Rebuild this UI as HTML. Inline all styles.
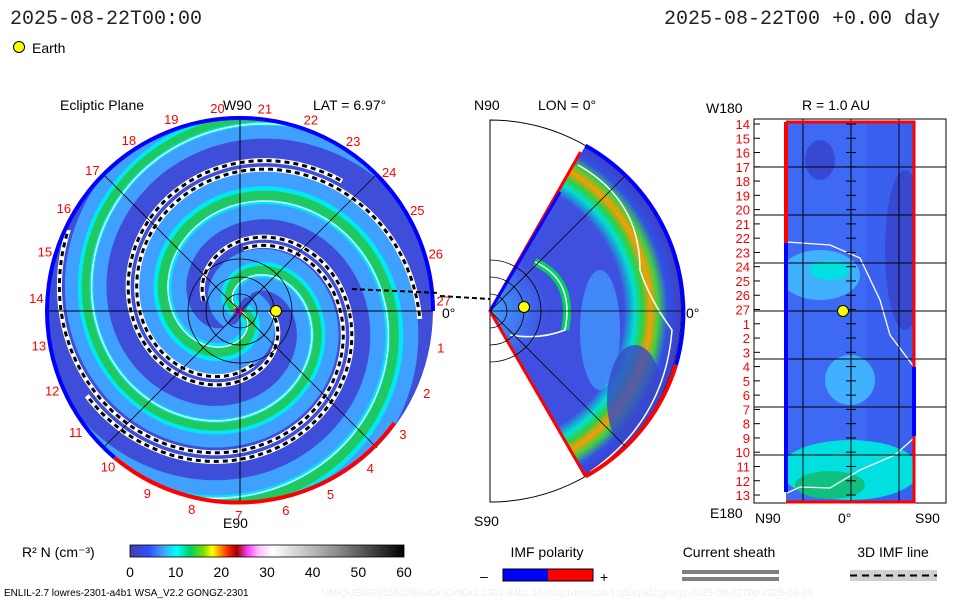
<!DOCTYPE html>
<html><head><meta charset="utf-8"><style>
body{margin:0;background:#fff;width:960px;height:600px;overflow:hidden}
svg{display:block;font-family:"Liberation Sans",sans-serif}
</style></head><body>
<svg id="s" width="960" height="600" viewBox="0 0 960 600">
<defs>
<clipPath id="cc"><circle cx="240" cy="311" r="193"/></clipPath>
<clipPath id="wc"><path d="M490,311 L585.5,145.6 A191,191 0 0 1 585.5,476.4 Z"/></clipPath>
<clipPath id="rc"><rect x="786" y="122" width="128" height="380"/></clipPath>
<linearGradient id="cb" x1="0" x2="1">
<stop offset="0" stop-color="#4040b0"/><stop offset="0.07" stop-color="#3050ff"/><stop offset="0.12" stop-color="#40a0ff"/>
<stop offset="0.17" stop-color="#00ffff"/><stop offset="0.22" stop-color="#00d060"/><stop offset="0.27" stop-color="#80e000"/>
<stop offset="0.3" stop-color="#ffff00"/><stop offset="0.33" stop-color="#ff9000"/><stop offset="0.36" stop-color="#ff2000"/>
<stop offset="0.39" stop-color="#a00000"/><stop offset="0.43" stop-color="#ff40ff"/><stop offset="0.47" stop-color="#ffc0ff"/>
<stop offset="0.52" stop-color="#ffffff"/><stop offset="0.75" stop-color="#909090"/><stop offset="1" stop-color="#000"/>
</linearGradient>
<radialGradient id="wg" cx="490" cy="311" r="191" gradientUnits="userSpaceOnUse">
<stop offset="0" stop-color="#40a0ff"/><stop offset="0.3" stop-color="#3f50e0"/><stop offset="0.7" stop-color="#3f50e0"/><stop offset="0.76" stop-color="#00e0d0"/><stop offset="0.8" stop-color="#30d040"/>
<stop offset="0.84" stop-color="#ff9a00"/><stop offset="0.88" stop-color="#40d040"/><stop offset="0.93" stop-color="#3050e8"/><stop offset="1" stop-color="#4040c0"/>
</radialGradient>
</defs>
<g font-family="Liberation Mono, monospace" font-size="20" fill="#222">
<text x="10" y="24">2025-08-22T00:00</text>
<text x="940" y="24" text-anchor="end">2025-08-22T00 +0.00 day</text>
</g>
<circle cx="19" cy="47" r="5.5" fill="#ff0" stroke="#000"/>
<text x="32" y="53" font-size="14">Earth</text>

<g font-size="14" fill="#000">
<text x="60" y="110">Ecliptic Plane</text>
<text x="223" y="110">W90</text>
<text x="313" y="110">LAT = 6.97°</text>
<text x="223" y="528">E90</text>
<text x="442" y="318">0°</text>
<text x="474" y="110">N90</text>
<text x="538" y="110">LON = 0°</text>
<text x="474" y="526">S90</text>
<text x="686" y="318">0°</text>
<text x="706" y="113">W180</text>
<text x="802" y="110">R = 1.0 AU</text>
<text x="710" y="518">E180</text>
<text x="755" y="523">N90</text>
<text x="838" y="523">0°</text>
<text x="915" y="523">S90</text>
</g>

<g id="ecl" clip-path="url(#cc)">
<circle cx="240" cy="311" r="193" fill="#3f4ed8"/>
</g>
<g id="eclover"></g>

<g id="mer">
<path d="M490,120 A191,191 0 0 1 490,502 Z" fill="none" stroke="#000" stroke-width="1"/>
<g clip-path="url(#wc)"><rect x="480" y="120" width="210" height="390" fill="url(#wg)"/>
<ellipse cx="600" cy="330" rx="20" ry="60" fill="#40a0ff" opacity="0.7"/>
<ellipse cx="635" cy="400" rx="28" ry="55" fill="#3a48c8" opacity="0.8"/>
<path d="M535,262 Q575,280 565,330" stroke="#00d060" stroke-width="8" fill="none"/>
<path d="M535,262 Q575,280 565,330 Q540,340 510,335" stroke="#fff" stroke-width="1.5" fill="none"/>
<path d="M578,165 Q640,200 640,270 Q650,300 672,330 Q665,420 590,472" stroke="#fff" stroke-width="1.5" fill="none"/>
</g>
<path d="M580.5,152 L490,311 L585.5,476.4" fill="none" stroke="#f00" stroke-width="3"/>
<path d="M490,311 L560,192" fill="none" stroke="#00f" stroke-width="3"/>
<path d="M585.5,145.6 A191,191 0 0 1 676,365 " fill="none" stroke="#00f" stroke-width="4"/>
<path d="M676,365 A191,191 0 0 1 585.5,476.4" fill="none" stroke="#f00" stroke-width="4"/>
<path d="M490,311 L681,311 M490,311 L625,176 M490,311 L625,446" stroke="#000" stroke-width="0.8"/>
<path d="M490,294 A17,17 0 0 1 490,328 M490,277 A34,34 0 0 1 490,345 M490,260 A51,51 0 0 1 490,362" fill="none" stroke="#000" stroke-width="0.8"/>
<line x1="440" y1="296" x2="490" y2="299" stroke="#000" stroke-width="2" stroke-dasharray="5,3"/>
<circle cx="524" cy="307" r="5.5" fill="#ff0" stroke="#000"/>
</g>

<g id="rgt">
<rect x="754" y="119" width="192" height="384" fill="#fff" stroke="#000"/>
<g clip-path="url(#rc)">
<rect x="786" y="122" width="128" height="380" fill="#3a60f0"/>
<rect x="786" y="122" width="80" height="380" fill="#4070f8" opacity="0.6"/>
<ellipse cx="820" cy="275" rx="40" ry="25" fill="#40b0ff"/>
<ellipse cx="830" cy="270" rx="20" ry="10" fill="#00e0e0"/>
<ellipse cx="850" cy="380" rx="25" ry="25" fill="#40b0ff"/>
<ellipse cx="850" cy="470" rx="70" ry="30" fill="#00e0e0"/>
<ellipse cx="830" cy="485" rx="35" ry="14" fill="#10c080"/>
<ellipse cx="820" cy="160" rx="15" ry="20" fill="#3848d0"/>
<ellipse cx="905" cy="250" rx="20" ry="80" fill="#3848d0"/>
<path d="M787,242 L830,245 L860,258 L880,300 L890,335 L914,367" stroke="#fff" stroke-width="1.3" fill="none"/>
<path d="M787,493 L800,487 L830,488 L860,470 L895,455 L914,438" stroke="#fff" stroke-width="1.3" fill="none"/>
</g>
<g id="rgrid" stroke="#000" stroke-width="1"></g>
<path d="M786,122 H914 V502 H786" fill="none" stroke="#f00" stroke-width="3"/>
<line x1="786" y1="122" x2="786" y2="243" stroke="#f00" stroke-width="4"/>
<line x1="786" y1="243" x2="786" y2="492" stroke="#00f" stroke-width="4"/>
<line x1="914" y1="367" x2="914" y2="436" stroke="#00f" stroke-width="4"/>
<circle cx="843" cy="311" r="5.5" fill="#ff0" stroke="#000"/>
<g id="rlabels" font-size="13" fill="#f00" text-anchor="end"></g>
</g>

<g>
<text x="22" y="557" font-size="14">R² N (cm⁻³)</text>
<rect x="130" y="545" width="274" height="12" fill="url(#cb)" stroke="#000" stroke-width="0.8"/>
<g id="cbt" font-size="14" text-anchor="middle"></g>
</g>
<g>
<text x="547" y="557" font-size="14" text-anchor="middle">IMF polarity</text>
<text x="480" y="581" font-size="14">–</text>
<rect x="503" y="569" width="45" height="12" fill="#00f"/><rect x="548" y="569" width="45" height="12" fill="#f00"/>
<rect x="503" y="569" width="90" height="12" fill="none" stroke="#000"/>
<text x="600" y="582" font-size="14">+</text>
</g>
<g>
<text x="729" y="557" font-size="14" text-anchor="middle">Current sheath</text>
<rect x="682" y="570" width="97" height="4" fill="#808080"/><rect x="682" y="577" width="97" height="4" fill="#808080"/>
</g>
<g>
<text x="893" y="557" font-size="14" text-anchor="middle">3D IMF line</text>
<rect x="850" y="570" width="87" height="11" fill="#d0d0d0"/>
<line x1="850" y1="575.5" x2="937" y2="575.5" stroke="#000" stroke-width="2" stroke-dasharray="7,5"/>
</g>
<text x="4" y="596" font-size="10">ENLIL-2.7 lowres-2301-a4b1 WSA_V2.2 GONGZ-2301</text>
<text x="322" y="596" font-size="10" fill="#eee">UNIQUE0823155528/640x30x90x1.2301-a4b1.16-mcp1umn1cd-1.g53q5d2.gongz-2025-08-22T00   2025-08-23</text>
</svg>
<script>
const NS='http://www.w3.org/2000/svg';
const cbTicks=[0,10,20,30,40,50,60];
const lonLabels=[1,2,3,4,5,6,7,8,9,10,11,12,13,14,15,16,17,18,19,20,21,22,23,24,25,26,27];
const latRows=[14,15,16,17,18,19,20,21,22,23,24,25,26,27,1,2,3,4,5,6,7,8,9,10,11,12,13];
// spiral band arms: start angle (deg), width
const armStart=[20,200];
const armWidth=[30,26];
// 3D IMF dashed lines: start angle (deg), t range
const imfStart=[110,130,290,310];
const imfT0=[1.5,2.5,1.2,2.2];
const imfT1=[7.0,7.6,6.6,7.2];
function mk(t,a,p){const e=document.createElementNS(NS,t);for(const k in a)e.setAttribute(k,a[k]);p.appendChild(e);return e;}
const cx=240,cy=311,R=193,K=25;
function spiral(ph0,off,t0,t1){t0=t0||0;t1=t1||9;let d='';const n=200;for(let i=0;i<=n;i++){const t=t0+(t1-t0)*i/n;const r=K*t+off;const a=ph0*Math.PI/180+t;d+=(i?'L':'M')+(cx+r*Math.cos(a)).toFixed(1)+','+(cy+r*Math.sin(a)).toFixed(1);}return d;}
const ecl=document.getElementById('ecl');
armStart.forEach((a,i)=>{
 let p=mk('path',{d:spiral(a,4),stroke:'#40a0ff','stroke-width':armWidth[i]*1.6,fill:'none'},ecl);
 
 
 mk('path',{d:spiral(a,4),stroke:'#00e8f0','stroke-width':armWidth[i]*0.6,fill:'none'},ecl);
 mk('path',{d:spiral(a,4),stroke:'#20c860','stroke-width':armWidth[i]*0.3,fill:'none'},ecl);
 mk('path',{d:spiral(a,-2),stroke:'#fff','stroke-width':1.3,fill:'none'},ecl);
});
imfStart.forEach((a,i)=>{
 const d=spiral(a,0,imfT0[i],imfT1[i]);
 const w=mk('path',{d,stroke:'#fff','stroke-width':5,fill:'none'},ecl);
 
 
 mk('path',{d,stroke:'#000','stroke-width':3,fill:'none','stroke-dasharray':'5,4'},ecl);
});
const ov=document.getElementById('eclover');
mk('line',{x1:cx-R,y1:cy,x2:cx+R,y2:cy,stroke:'#000','stroke-width':1},ov);
mk('line',{x1:cx,y1:cy-R,x2:cx,y2:cy+R,stroke:'#000','stroke-width':1},ov);
mk('line',{x1:cx-137,y1:cy-137,x2:cx+137,y2:cy+137,stroke:'#000','stroke-width':0.8},ov);
mk('line',{x1:cx-137,y1:cy+137,x2:cx+137,y2:cy-137,stroke:'#000','stroke-width':0.8},ov);
[17,34,52].forEach(r=>mk('circle',{cx,cy,r,fill:'none',stroke:'#000','stroke-width':0.8},ov));
mk('path',{d:`M${cx+R},${cy} A${R},${R} 0 1 0 ${cx-R*0.65},${cy+R*0.76}`,fill:'none',stroke:'#00f','stroke-width':4},ov);
mk('path',{d:`M${cx-R*0.65},${cy+R*0.76} A${R},${R} 0 0 0 ${cx+R*0.8},${cy+R*0.58}`,fill:'none',stroke:'#f00','stroke-width':4},ov);
mk('line',{x1:352,y1:289,x2:440,y2:293,stroke:'#000','stroke-width':2,'stroke-dasharray':'5,3'},ov);
mk('circle',{cx:cx-2,cy:cy,r:3,fill:'#00f',stroke:'#f00','stroke-width':1.5},ov);
const em=mk('circle',{cx:276,cy:311,r:5.5,fill:'#ff0',stroke:'#000'},ov);


lonLabels.forEach(k=>{
 const ang=(3+(27-k)*360/27)*Math.PI/180;const r=204;
 const t=mk('text',{x:(cx+r*Math.cos(ang)).toFixed(1),y:(cy-r*Math.sin(ang)+5).toFixed(1),'font-size':13,fill:'#f00','text-anchor':'middle'},ov);
 t.textContent=k;
 
 
});
const rg=document.getElementById('rgrid');
for(let i=1;i<8;i++){const y=119+i*48;mk('line',{x1:754,y1:y,x2:946,y2:y},rg);}
[803,851,899].forEach(x=>mk('line',{x1:x,y1:119,x2:x,y2:503},rg));
const rl=document.getElementById('rlabels');
latRows.forEach((v,i)=>{const y=124+i*14.27;
 const t=mk('text',{x:750,y:(y+5).toFixed(1)},rl);t.textContent=v;
 
 
 mk('line',{x1:846,y1:y,x2:856,y2:y,stroke:'#000'},rg);
 mk('line',{x1:754,y1:y,x2:760,y2:y,stroke:'#000'},rg);
});
const cbt=document.getElementById('cbt');
cbTicks.forEach(v=>{const x=130+v/60*274;
 const t=mk('text',{x,y:577},cbt);t.textContent=v;
 
 
});
</script>
</body></html>
